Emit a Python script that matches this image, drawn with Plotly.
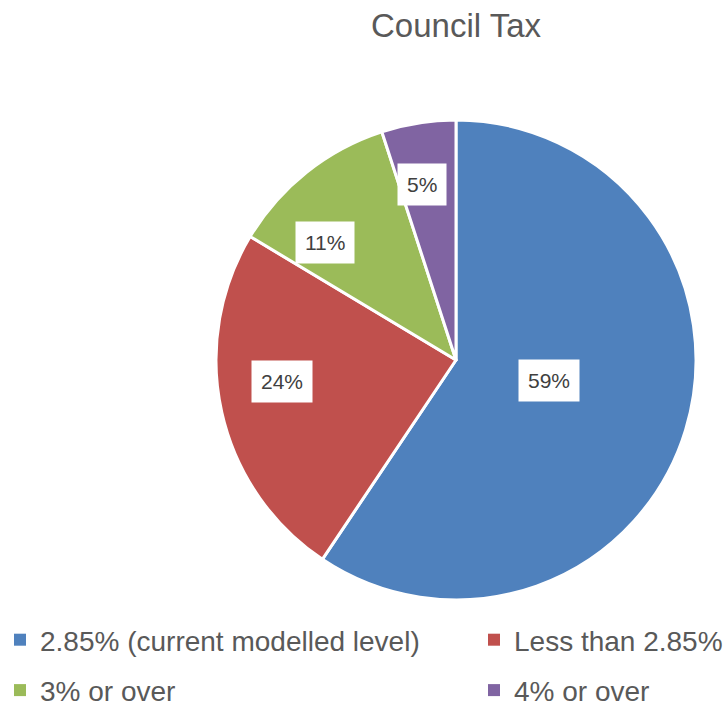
import math
import plotly.graph_objects as go

categories = ["2.85% (current modelled level)", "Less than 2.85%", "3% or over", "4% or over"]
values = [59.4, 24.2, 11.4, 5.0]
colors = ["#4F81BD", "#C0504D", "#9BBB59", "#8064A2"]
legend_column = ["legend", "legend2", "legend", "legend2"]

W, H = 724, 709
CX, CY, R = 456, 360, 240
label_r = [0.525, 0.73, 0.796, 0.833]
label_dang = [-7.7, 5.7, -4.8, -0.8]
FONT = "Liberation Sans, Arial, sans-serif"

fig = go.Figure()
fig.add_trace(go.Pie(
    labels=categories, values=values, sort=False, direction="clockwise", rotation=0,
    marker=dict(colors=colors, line=dict(color="white", width=3)),
    textinfo="none", hoverinfo="label+percent", showlegend=False,
    domain=dict(x=[(CX - R) / W, (CX + R) / W], y=[(H - CY - R) / H, (H - CY + R) / H]),
))

# legend entries (two columns like the original)
for cat, col, lg in zip(categories, colors, legend_column):
    fig.add_trace(go.Scatter(
        x=[None], y=[None], mode="markers", name=cat, legend=lg, legendgroup=cat,
        marker=dict(symbol="square", size=12, color=col), hoverinfo="skip",
    ))

total = sum(values)
cum = 0
annotations = []
for v, rf, da in zip(values, label_r, label_dang):
    mid = (cum + v / 2) / total * 2 * math.pi + math.radians(da)
    cum += v
    px = CX + rf * R * math.sin(mid)
    py = CY - rf * R * math.cos(mid)
    annotations.append(dict(
        x=px / W, y=1 - py / H, xref="paper", yref="paper", showarrow=False,
        text=f"{round(v / total * 100)}%", bgcolor="white", borderpad=9,
        font=dict(family=FONT, size=21, color="#404040"),
    ))

legend_style = dict(orientation="v", xanchor="left", y=1 - 615 / H, yanchor="top",
                    bgcolor="rgba(0,0,0,0)", tracegroupgap=11, itemclick=False,
                    font=dict(family=FONT, size=28, color="#595959"))

fig.update_layout(
    width=W, height=H, margin=dict(l=0, r=0, t=0, b=0, autoexpand=False),
    paper_bgcolor="white", plot_bgcolor="white",
    xaxis=dict(visible=False), yaxis=dict(visible=False),
    title=dict(text="Council Tax", x=CX / W, xanchor="center", y=1 - 25 / H, yanchor="middle",
               yref="container", font=dict(family=FONT, size=33, color="#595959")),
    annotations=annotations,
    legend=dict(x=0.0, **legend_style),
    legend2=dict(x=474 / W, **legend_style),
    showlegend=True,
)

fig.write_html("out.html", config={"displayModeBar": False},
               post_script="document.body.style.margin='0';")
